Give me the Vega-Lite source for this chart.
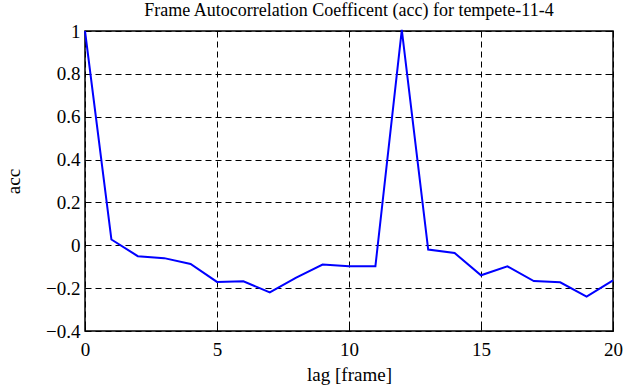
{
  "$schema": "https://vega.github.io/schema/vega-lite/v6.json",
  "width": 528,
  "height": 300,
  "autosize": {"type": "none"},
  "padding": {"left": 85, "top": 31, "right": 22, "bottom": 56},
  "background": "white",
  "title": {
    "text": "Frame Autocorrelation Coefficent (acc) for tempete-11-4",
    "font": "Liberation Serif",
    "fontSize": 18,
    "fontWeight": "normal",
    "color": "black",
    "offset": 2
  },
  "config": {
    "view": {"stroke": "black", "strokeWidth": 1.5},
    "font": "Liberation Serif",
    "axis": {"labelFont": "Liberation Serif", "titleFont": "Liberation Serif", "labelFontSize": 19, "titleFontSize": 19, "labelColor": "black", "titleColor": "black", "titleFontWeight": "normal"}
  },
  "data": {
    "values": [
      {"lag": 0, "acc": 1.0},
      {"lag": 1, "acc": 0.027},
      {"lag": 2, "acc": -0.051},
      {"lag": 3, "acc": -0.06},
      {"lag": 4, "acc": -0.087},
      {"lag": 5, "acc": -0.171},
      {"lag": 6, "acc": -0.168},
      {"lag": 7, "acc": -0.22},
      {"lag": 8, "acc": -0.151},
      {"lag": 9, "acc": -0.09},
      {"lag": 10, "acc": -0.098},
      {"lag": 11, "acc": -0.098},
      {"lag": 12, "acc": 1.005},
      {"lag": 13, "acc": -0.02},
      {"lag": 14, "acc": -0.036},
      {"lag": 15, "acc": -0.14},
      {"lag": 16, "acc": -0.098},
      {"lag": 17, "acc": -0.167},
      {"lag": 18, "acc": -0.173},
      {"lag": 19, "acc": -0.24},
      {"lag": 20, "acc": -0.164}
    ]
  },
  "resolve": {"scale": {"x": "independent", "y": "independent"}, "axis": {"x": "independent", "y": "independent"}},
  "layer": [
    {
      "mark": {"type": "line", "color": "#0000FF", "strokeWidth": 2, "clip": false},
      "encoding": {
        "x": {
          "field": "lag", "type": "quantitative",
          "scale": {"domain": [0, 20], "nice": false, "zero": false},
          "axis": {
            "orient": "bottom",
            "title": "lag [frame]",
            "titleFont": "Liberation Serif", "titleFontSize": 19, "titleFontWeight": "normal", "titleColor": "black",
            "titlePadding": 6,
            "values": [0, 5, 10, 15, 20],
            "labelFont": "Liberation Serif", "labelFontSize": 19, "labelColor": "black",
            "labelPadding": 14,
            "labelFlush": false,
            "tickSize": -5, "tickColor": "black", "tickWidth": 1,
            "domain": false,
            "grid": true, "gridColor": "black", "gridDash": [6, 4], "gridOpacity": 1, "gridWidth": 1
          }
        },
        "y": {
          "field": "acc", "type": "quantitative",
          "scale": {"domain": [-0.4, 1], "nice": false, "zero": false},
          "axis": {
            "orient": "left",
            "title": "acc",
            "titleFont": "Liberation Serif", "titleFontSize": 19, "titleFontWeight": "normal", "titleColor": "black",
            "titlePadding": 22,
            "values": [-0.4, -0.2, 0, 0.2, 0.4, 0.6, 0.8, 1],
            "labelExpr": "datum.value == 0 ? '0' : datum.value == 1 ? '1' : format(datum.value, '.1f')",
            "labelFont": "Liberation Serif", "labelFontSize": 19, "labelColor": "black",
            "labelPadding": 10,
            "labelFlush": false,
            "tickSize": -5, "tickColor": "black", "tickWidth": 1,
            "domain": false,
            "grid": true, "gridColor": "black", "gridDash": [6, 4], "gridOpacity": 1, "gridWidth": 1
          }
        }
      }
    },
    {
      "mark": {"type": "line", "opacity": 0},
      "encoding": {
        "x": {
          "field": "lag", "type": "quantitative",
          "scale": {"domain": [0, 20], "nice": false, "zero": false},
          "axis": {"orient": "top", "values": [0, 5, 10, 15, 20], "labels": false, "title": null, "domain": false, "grid": false, "tickSize": -5, "tickColor": "black", "tickWidth": 1}
        },
        "y": {
          "field": "acc", "type": "quantitative",
          "scale": {"domain": [-0.4, 1], "nice": false, "zero": false},
          "axis": {"orient": "right", "values": [-0.4, -0.2, 0, 0.2, 0.4, 0.6, 0.8, 1], "labels": false, "title": null, "domain": false, "grid": false, "tickSize": -5, "tickColor": "black", "tickWidth": 1}
        }
      }
    }
  ]
}
